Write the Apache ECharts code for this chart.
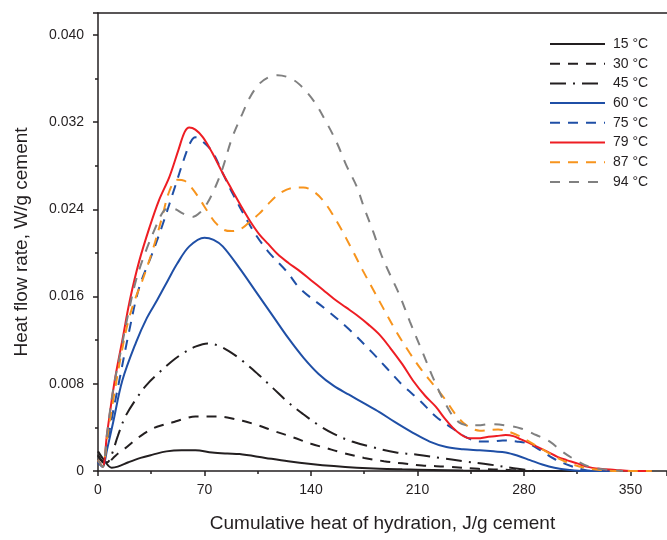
<!DOCTYPE html>
<html>
<head>
<meta charset="utf-8">
<script src="https://cdn.jsdelivr.net/npm/echarts@6/dist/echarts.min.js"></script>
<style>
  html, body { margin: 0; padding: 0; background: #fff; }
  #chart { width: 667px; height: 540px; }
</style>
</head>
<body>
<div id="chart"></div>
<script>
// Heat flow rate (W/g cement) against cumulative heat of hydration (J/g cement)
// for curing temperatures from 15 °C to 94 °C. Each series: [heat, flow] pairs.
const temps = ['15 °C', '30 °C', '45 °C', '60 °C', '75 °C', '79 °C', '87 °C', '94 °C'];

const heat15 = [[0,0.0018],[4,0.0010],[9,0.0003],[13,0.0004],[20,0.0008],[28,0.0012],[36,0.0015],[45,0.0018],[55,0.0019],[64,0.0019],[75,0.0017],[85,0.0016],[93,0.00155],[110,0.0012],[125,0.0009],[140,0.00065],[155,0.00045],[170,0.0003],[185,0.0002],[200,0.00015],[220,0.0001],[240,0.00005],[260,0.00002],[280,0],[330,0]];

const heat30 = [[0,0.0014],[3,0.0008],[6,0.0007],[10,0.0012],[14,0.0017],[18,0.0021],[24,0.0028],[30,0.0034],[36,0.0039],[42,0.0042],[50,0.0045],[57,0.0048],[64,0.0050],[71,0.0050],[78,0.0050],[85,0.0049],[95,0.0046],[105,0.0042],[115,0.0037],[128,0.0031],[140,0.0025],[150,0.0021],[160,0.0017],[175,0.0012],[188,0.0009],[200,0.0007],[213,0.0005],[230,0.0004],[250,0.0002],[270,0.0001],[285,0],[300,0]];

const heat45 = [[0,0.0015],[3,0.0009],[6,0.0008],[9,0.0015],[13,0.0032],[18,0.0050],[26,0.0068],[32,0.0079],[40,0.0090],[48,0.0100],[56,0.0108],[64,0.0114],[72,0.0117],[79,0.0115],[86,0.0110],[95,0.0101],[105,0.0089],[115,0.0076],[125,0.0063],[135,0.0052],[145,0.0042],[155,0.0034],[167,0.0027],[180,0.0022],[196,0.0017],[210,0.0015],[225,0.0012],[240,0.0009],[257,0.0006],[276,0.0002],[290,0],[300,0]];

const heat60 = [[0,0.0008],[3,0.0004],[6,0.0020],[10,0.0045],[16,0.0083],[25,0.0118],[32,0.0140],[39,0.0157],[46,0.0175],[52,0.0190],[60,0.0206],[70,0.0214],[76,0.0212],[82,0.0206],[93,0.0186],[104,0.0164],[115,0.0142],[125,0.0122],[135,0.0104],[145,0.0089],[155,0.0078],[165,0.0070],[175,0.0062],[185,0.0054],[195,0.0045],[207,0.0035],[218,0.0027],[229,0.0022],[240,0.0020],[251,0.0019],[260,0.0018],[268,0.0017],[276,0.0014],[284,0.0010],[292,0.0006],[300,0.0003],[310,0.0001],[320,0],[340,0]];

const heat75 = [[0,0.0008],[3,0.0004],[6,0.0025],[10,0.0055],[14,0.0083],[20,0.0125],[27,0.0168],[35,0.0197],[42,0.0224],[50,0.0258],[57,0.0288],[61,0.0302],[64,0.0306],[68,0.0303],[75,0.0293],[82,0.0273],[89,0.0253],[98,0.0230],[104,0.0216],[112,0.0201],[124,0.0183],[133,0.0167],[150,0.0148],[165,0.0130],[180,0.0109],[190,0.0094],[200,0.0079],[212,0.0064],[222,0.0050],[232,0.0040],[242,0.0031],[251,0.0027],[258,0.0027],[266,0.0028],[275,0.0027],[283,0.0025],[292,0.0018],[300,0.0011],[310,0.0005],[320,0.0001],[330,0],[345,0]];

const heat79 = [[0,0.0010],[3,0.0004],[6,0.0035],[11,0.0083],[16,0.0120],[21,0.0157],[27,0.0192],[34,0.0224],[40,0.0248],[47,0.0270],[53,0.0295],[57,0.0311],[60,0.0315],[64,0.0313],[69,0.0306],[75,0.0292],[82,0.0273],[88,0.0258],[94,0.0243],[100,0.0229],[106,0.0217],[112,0.0208],[118,0.0199],[125,0.0191],[132,0.0184],[140,0.0175],[148,0.0166],[155,0.0158],[163,0.0150],[170,0.0143],[178,0.0134],[185,0.0125],[192,0.0113],[200,0.0098],[207,0.0083],[215,0.0069],[222,0.0059],[228,0.0048],[233,0.0040],[238,0.0034],[244,0.0030],[250,0.0030],[255,0.0031],[262,0.0032],[268,0.0033],[273,0.0032],[278,0.0029],[286,0.0024],[295,0.0018],[302,0.0013],[308,0.0010],[315,0.0007],[321,0.0004],[330,0.0002],[340,0.0001],[350,0],[364,0]];

const heat87 = [[0,0.0010],[3,0.0004],[6,0.0030],[10,0.0065],[15,0.0105],[20,0.0138],[25,0.0160],[29,0.0174],[36,0.0203],[42,0.0232],[47,0.0257],[52,0.0267],[57,0.0266],[62,0.0259],[67,0.0249],[72,0.0238],[77,0.0228],[83,0.0221],[88,0.0220],[95,0.0223],[100,0.0229],[106,0.0236],[112,0.0245],[118,0.0253],[124,0.0258],[130,0.0260],[135,0.0260],[142,0.0256],[148,0.0248],[153,0.0238],[159,0.0224],[167,0.0203],[174,0.0184],[181,0.0166],[188,0.0148],[196,0.0128],[205,0.0108],[213,0.0092],[220,0.0080],[228,0.0066],[235,0.0052],[242,0.0042],[251,0.0037],[263,0.0038],[270,0.0036],[277,0.0032],[287,0.0024],[298,0.0015],[305,0.0010],[312,0.0006],[320,0.0003],[330,0.0001],[340,0],[364,0]];

const heat94 = [[0,0.0010],[3,0.0004],[6,0.0035],[10,0.0075],[15,0.0110],[20,0.0145],[25,0.0175],[31,0.0200],[38,0.0224],[43,0.0238],[47,0.0241],[51,0.0240],[56,0.0236],[62,0.0233],[67,0.0237],[72,0.0246],[77,0.0260],[82,0.0278],[88,0.0305],[95,0.0328],[100,0.0343],[106,0.0355],[112,0.0361],[118,0.0363],[125,0.0361],[132,0.0355],[142,0.0339],[150,0.0320],[157,0.0301],[163,0.0281],[170,0.0261],[175,0.0241],[181,0.0219],[186,0.0199],[192,0.0180],[198,0.0162],[205,0.0137],[213,0.0110],[221,0.0083],[229,0.0060],[236,0.0046],[243,0.0042],[250,0.0042],[257,0.0043],[267,0.0042],[278,0.0039],[288,0.0033],[297,0.0027],[305,0.0018],[314,0.0010],[323,0.0004],[336,0.0001],[345,0]];

const seriesData = [heat15, heat30, heat45, heat60, heat75, heat79, heat87, heat94];

const xTicks = { min: 0, max: 374, interval: 70 };
const yTicks = { min: 0, max: 0.042, interval: 0.008 };

const BLACK = '#231f20';
const styles = [
  { color: BLACK,     type: 'solid' },
  { color: BLACK,     type: [10, 8] },
  { color: BLACK,     type: [16, 7, 2, 7] },
  { color: '#1f4fa6', type: 'solid' },
  { color: '#1f4fa6', type: [10, 8] },
  { color: '#ee1d23', type: 'solid' },
  { color: '#f7941d', type: [10, 8] },
  { color: '#808080', type: [10, 9] }
];

const font = '"Liberation Sans", Arial, sans-serif';

const chart = echarts.init(document.getElementById('chart'), null, { renderer: 'canvas' });

chart.setOption({
  animation: false,
  backgroundColor: '#ffffff',
  textStyle: { fontFamily: font, color: BLACK },
  grid: { left: 98, right: 0, top: 13, bottom: 69 },
  legend: {
    orient: 'vertical',
    left: 549,
    top: 37,
    padding: 0,
    itemWidth: 55,
    itemHeight: 12,
    itemGap: 5.7,
    data: temps,
    itemStyle: { opacity: 0 },
    lineStyle: { width: 2 },
    textStyle: { fontFamily: font, fontSize: 14, color: BLACK, padding: [0, 0, 0, 3] }
  },
  xAxis: [{
    type: 'value',
    min: xTicks.min, max: xTicks.max, interval: xTicks.interval,
    name: 'Cumulative heat of hydration, J/g cement',
    nameLocation: 'middle',
    nameGap: 43,
    nameTextStyle: { fontFamily: font, fontSize: 19, color: BLACK },
    axisLine: { lineStyle: { color: BLACK, width: 1.5 } },
    axisTick: { length: 5, lineStyle: { color: BLACK, width: 1.5 } },
    minorTick: { show: true, splitNumber: 2, length: 3, lineStyle: { color: BLACK, width: 1.5 } },
    axisLabel: { fontFamily: font, fontSize: 14, color: BLACK, margin: 12, showMaxLabel: false },
    splitLine: { show: false }
  }, {
    type: 'value',
    position: 'top',
    min: xTicks.min, max: xTicks.max,
    axisLine: { show: true, lineStyle: { color: BLACK, width: 1.5 } },
    axisTick: { show: false },
    axisLabel: { show: false },
    splitLine: { show: false }
  }],
  yAxis: {
    type: 'value',
    min: yTicks.min, max: yTicks.max, interval: yTicks.interval,
    name: 'Heat flow rate, W/g cement',
    nameLocation: 'middle',
    nameGap: 67,
    nameTextStyle: { fontFamily: font, fontSize: 19, color: BLACK },
    axisLine: { show: true, lineStyle: { color: BLACK, width: 1.5 } },
    axisTick: { length: 5, lineStyle: { color: BLACK, width: 1.5 } },
    minorTick: { show: true, splitNumber: 2, length: 3, lineStyle: { color: BLACK, width: 1.5 } },
    axisLabel: {
      fontFamily: font, fontSize: 14, color: BLACK, margin: 14, showMaxLabel: false,
      formatter: v => (v === 0 ? '0' : v.toFixed(3))
    },
    splitLine: { show: false }
  },
  series: temps.map((name, i) => ({
    name,
    type: 'line',
    xAxisIndex: 0,
    data: seriesData[i],
    smooth: 0.35,
    symbol: 'none',
    showSymbol: false,
    clip: true,
    z: 2 + i,
    lineStyle: { color: styles[i].color, type: styles[i].type, width: 2 },
    itemStyle: { color: styles[i].color }
  }))
});
</script>
</body>
</html>
